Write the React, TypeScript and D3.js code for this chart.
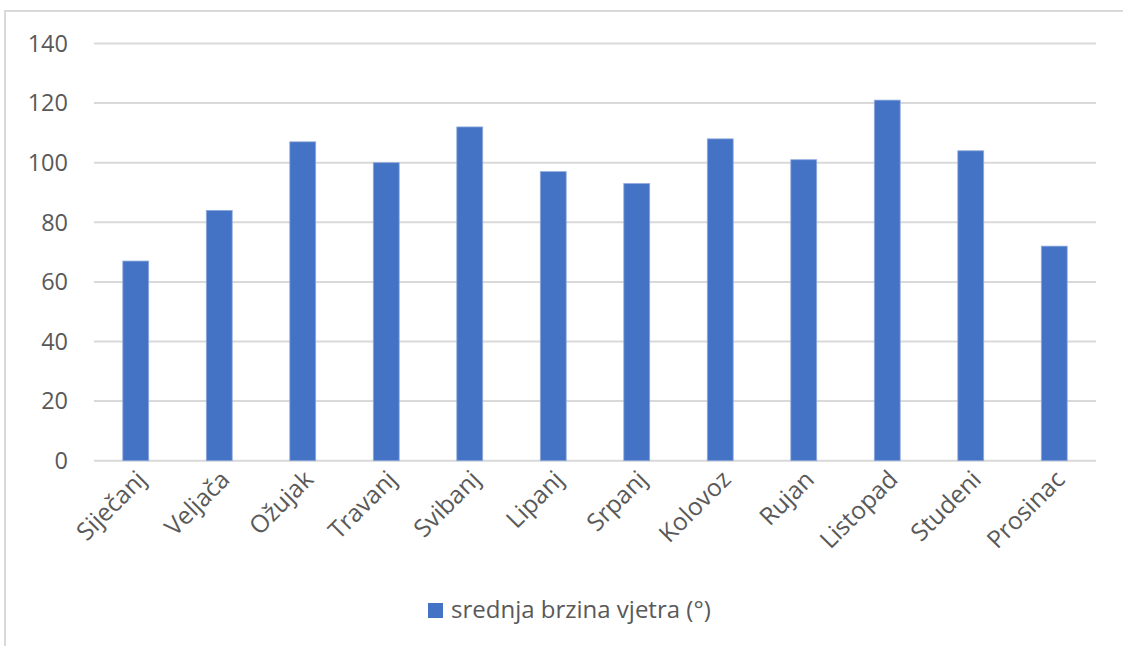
import React from "react";
import * as d3 from "d3";

const categories = ["Siječanj", "Veljača", "Ožujak", "Travanj", "Svibanj", "Lipanj", "Srpanj", "Kolovoz", "Rujan", "Listopad", "Studeni", "Prosinac"];
const values = [67, 84, 107, 100, 112, 97, 93, 108, 101, 121, 104, 72];
const yTicks = [0, 20, 40, 60, 80, 100, 120, 140];
const seriesName = "srednja brzina vjetra (°)";

const W = 1123;
const H = 646;
const FONT = "'Open Sans', Lato, sans-serif";
const BAR = "#4472C4";
const TXT = "#595959";

export default function App() {
  const x = d3.scaleBand<string>().domain(categories).range([94, 1096]).paddingInner(0.69).paddingOuter(0.345);
  const y = d3.scaleLinear().domain([0, 140]).range([460.7, 43.5]);
  const bw = x.bandwidth();
  return (
    <svg width={W} height={H} style={{ position: "absolute", left: 0, top: 0, background: "#fff" }}>
      <rect x={5} y={11} width={W + 10} height={H + 10} fill="#fff" stroke="#d9d9d9" strokeWidth={2} />
      {yTicks.map((t) => (
        <g key={t}>
          <line x1={94} x2={1096} y1={y(t)} y2={y(t)} stroke="#d9d9d9" strokeWidth={2} />
          <text x={68} y={y(t)} dy="0.35em" textAnchor="end" fontFamily={FONT} fontSize={23.5} fill={TXT}>{t}</text>
        </g>
      ))}
      {categories.map((c, i) => (
        <rect key={c} x={x(c)} y={y(values[i])} width={bw} height={y(0) - y(values[i])} fill={BAR} stroke="#8faadc" strokeWidth={0.8} />
      ))}
      {categories.map((c) => {
        const cx = (x(c) as number) + bw / 2 + 12;
        const cy = 481;
        return (
          <text key={c} x={cx} y={cy} transform={`rotate(-45 ${cx} ${cy})`} textAnchor="end" fontFamily={FONT} fontSize={24.5} fill={TXT}>{c}</text>
        );
      })}
      <rect x={428} y={603} width={15} height={15} fill={BAR} />
      <text x={451} y={610} dy="0.35em" fontFamily={FONT} fontSize={24} fill={TXT}>{seriesName}</text>
    </svg>
  );
}
